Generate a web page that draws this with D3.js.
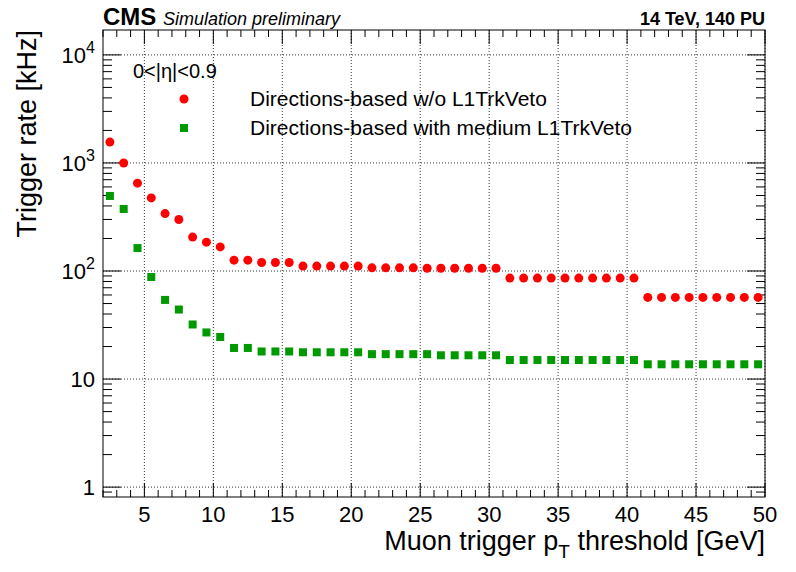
<!DOCTYPE html><html><head><script src="https://cdn.jsdelivr.net/npm/d3@7"></script>
<style>body{margin:0;background:#fff}text{font-family:"Liberation Sans",Arial,sans-serif}</style></head><body>
<svg id="c" width="796" height="572"></svg>
<script>
const thresholds=[2.5,3.5,4.5,5.5,6.5,7.5,8.5,9.5,10.5,11.5,12.5,13.5,14.5,15.5,16.5,17.5,18.5,19.5,20.5,21.5,22.5,23.5,24.5,25.5,26.5,27.5,28.5,29.5,30.5,31.5,32.5,33.5,34.5,35.5,36.5,37.5,38.5,39.5,40.5,41.5,42.5,43.5,44.5,45.5,46.5,47.5,48.5,49.5];
const noVeto=[1560,1000,650,475,340,300,206,185,167,126,126,120,120,120,111,111,111,111,111,107,107,107,107,106,106,106,106,106,106,86,86,86,86,86,86,86,86,86,86,57,57,57,57,57,57,57,57,57];
const withVeto=[495,375,163,88,54,44,32,27,24.5,19.4,19.4,18,18,18,17.7,17.7,17.7,17.7,17.7,17,17,17,17,17,16.6,16.6,16.6,16.6,16.6,15,15,15,15,15,15,15,15,15,15,13.7,13.7,13.7,13.7,13.7,13.7,13.7,13.7,13.7];
const xTicks=[5,10,15,20,25,30,35,40,45,50];
const yTicks=[1,10,100,1000,10000];
const L=103,R=765,T=30,B=497;
const svg=d3.select("#c");
const x=d3.scaleLinear().domain([2,50]).range([L,R]);
const y=d3.scaleLog().domain([0.81,17000]).range([B,T]);
const g=svg.append("g");
g.selectAll(".gx").data(xTicks).join("line").attr("x1",d=>x(d)).attr("x2",d=>x(d)).attr("y1",T).attr("y2",B).attr("stroke","#000").attr("stroke-dasharray","1,2").attr("stroke-width",0.8);
g.selectAll(".gy").data(yTicks).join("line").attr("y1",d=>y(d)).attr("y2",d=>y(d)).attr("x1",L).attr("x2",R).attr("stroke","#000").attr("stroke-dasharray","1,2").attr("stroke-width",0.8);
for(let v=2;v<=50;v++){const big=v%5==0;
 g.append("line").attr("x1",x(v)).attr("x2",x(v)).attr("y1",B).attr("y2",B-(big?14:7)).attr("stroke","#000");
 g.append("line").attr("x1",x(v)).attr("x2",x(v)).attr("y1",T).attr("y2",T+(big?14:7)).attr("stroke","#000");}
for(let e=-1;e<5;e++)for(let m=1;m<10;m++){const v=m*Math.pow(10,e);if(v<0.81||v>17000)continue;const len=m==1?18:9;
 g.append("line").attr("x1",L).attr("x2",L+len).attr("y1",y(v)).attr("y2",y(v)).attr("stroke","#000");
 g.append("line").attr("x1",R).attr("x2",R-len).attr("y1",y(v)).attr("y2",y(v)).attr("stroke","#000");}
g.append("rect").attr("x",L).attr("y",T).attr("width",R-L).attr("height",B-T).attr("fill","none").attr("stroke","#000");
g.selectAll(".xl").data(xTicks).join("text").attr("x",d=>x(d)).attr("y",B+25).attr("text-anchor","middle").attr("font-size",22).text(d=>d);
const yl=g.selectAll(".yl").data(yTicks).join("text").attr("x",L-8).attr("y",d=>y(d)+8).attr("text-anchor","end").attr("font-size",22);
yl.each(function(d){const t=d3.select(this);if(d<100)t.text(d);else{t.append("tspan").text("10");t.append("tspan").attr("dy",-10).attr("font-size",16).text(Math.log10(d));}});
svg.append("text").attr("x",R).attr("y",550).attr("text-anchor","end").attr("font-size",27).html('Muon trigger p<tspan dy="8" font-size="19">T</tspan><tspan dy="-8"> threshold [GeV]</tspan>');
svg.append("text").attr("transform",`translate(36,${T}) rotate(-90)`).attr("text-anchor","end").attr("font-size",27).text("Trigger rate [kHz]");
svg.append("text").attr("x",L).attr("y",25).attr("font-size",24).attr("font-weight","bold").text("CMS");
svg.append("text").attr("x",163).attr("y",25).attr("font-size",18).attr("font-style","italic").text("Simulation preliminary");
svg.append("text").attr("x",R).attr("y",25).attr("text-anchor","end").attr("font-size",18).attr("font-weight","bold").text("14 TeV, 140 PU");
svg.append("text").attr("x",133).attr("y",78).attr("font-size",20).text("0<|η|<0.9");
const col1="#ff0000",col2="#009900";
g.selectAll(".r").data(thresholds).join("circle").attr("cx",d=>x(d)).attr("cy",(d,i)=>y(noVeto[i])).attr("r",4.5).attr("fill",col1);
g.selectAll(".eb").data(thresholds).join("line").attr("x1",d=>x(d)).attr("x2",d=>x(d)).attr("y1",(d,i)=>y(withVeto[i]*0.94)).attr("y2",(d,i)=>y(withVeto[i]*1.06)).attr("stroke","#000");
g.selectAll(".s").data(thresholds).join("rect").attr("x",d=>x(d)-4).attr("y",(d,i)=>y(withVeto[i])-4).attr("width",8).attr("height",8).attr("fill",col2);
svg.append("circle").attr("cx",184).attr("cy",99).attr("r",4.5).attr("fill",col1);
svg.append("text").attr("x",250).attr("y",106).attr("font-size",21).text("Directions-based w/o L1TrkVeto");
svg.append("rect").attr("x",180).attr("y",124).attr("width",8).attr("height",8).attr("fill",col2);
svg.append("text").attr("x",250).attr("y",135).attr("font-size",21).text("Directions-based with medium L1TrkVeto");
</script></body></html>
